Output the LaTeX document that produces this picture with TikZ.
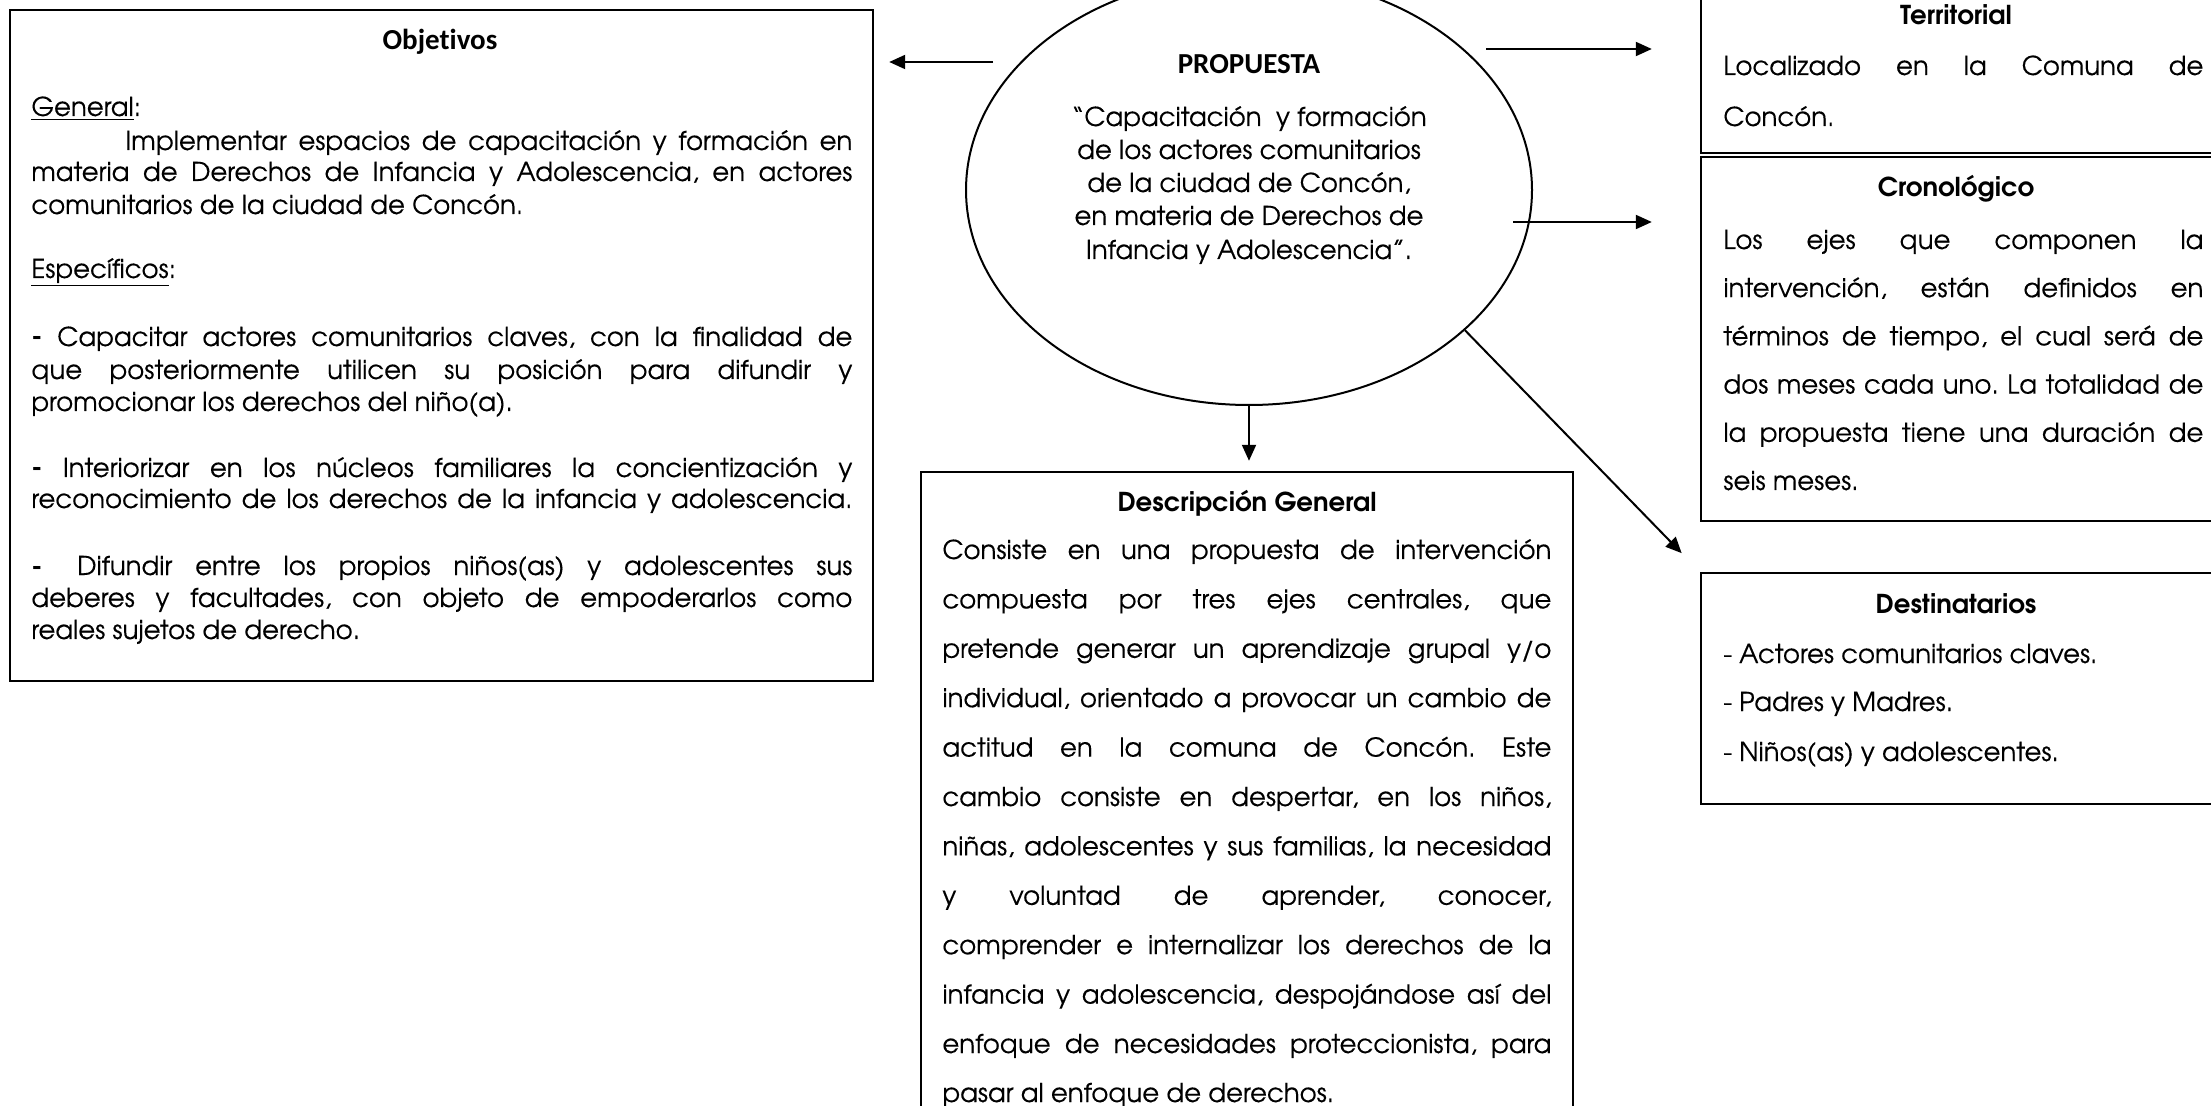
\documentclass[tikz,border=0pt]{standalone}
\usepackage{fontspec}
\setmainfont{texgyreadventor}[Extension=.otf, UprightFont=*-regular, BoldFont=*-bold, ItalicFont=*-italic, BoldItalicFont=*-bolditalic, UprightFeatures={FakeBold=0.25}]
\newfontfamily\carl{Carlito}[Ligatures=NoCommon]
\usetikzlibrary{arrows.meta,shapes.geometric}
\newcommand\J[2]{\makebox[#1][s]{#2}}
\frenchspacing
\begin{document}
\frenchspacing
\begin{tikzpicture}[x=0.5pt,y=-0.5pt,
  box/.style={draw, line width=1.2pt, rectangle, inner sep=0pt},
  arr/.style={-{Triangle[length=8pt,width=7pt]}, line width=1pt},
  txt/.style={anchor=base west, inner sep=0pt, font=\frenchspacing\fontsize{13}{15}\selectfont},
  ctxt/.style={anchor=base, inner sep=0pt, font=\frenchspacing\fontsize{13}{15}\selectfont},
  ttl/.style={anchor=base, inner sep=0pt, font=\bfseries\fontsize{13}{15}\selectfont},
  cttl/.style={anchor=base, inner sep=0pt, font=\carl\bfseries\fontsize{14.5}{16}\selectfont}]
\useasboundingbox (0,0) rectangle (2211,1106);
\clip (0,0) rectangle (2211,1106);
\fill[white] (0,0) rectangle (2211,1106);

% boxes
\node[box, minimum width=431.5pt, minimum height=335.5pt] (obj) at (441.5,345.5) {};
\node[box, minimum width=326pt, minimum height=324pt] (desc) at (1247,796) {};
\node[box, minimum width=262pt, minimum height=81.5pt] (terr) at (1963,71.5) {};
\node[box, minimum width=262pt, minimum height=182pt] (cron) at (1963,339) {};
\node[box, minimum width=262pt, minimum height=115.5pt] (dest) at (1963,688.5) {};
\node[draw, ellipse, line width=1pt, minimum width=283pt, minimum height=215pt, inner sep=0pt] (prop) at (1249,190) {};

% arrows
\coordinate (l1) at (993,62);
\coordinate (r1) at (1486,49);
\coordinate (r2) at (1513,222);
\draw[arr, shorten >=7.5pt] (l1) -- (obj.east |- l1);
\draw[arr, shorten >=24pt] (r1) -- (terr.west |- r1);
\draw[arr, shorten >=24pt] (r2) -- (cron.west |- r2);
\draw[arr, shorten >=5pt] (prop.south) -- (prop.south |- desc.north);
\draw[arr, shorten >=13pt] (prop.-33) -- (dest.north west);

% Objetivos
\node[cttl] (ot) at (440,50) {Objetivos};
\node[txt] (o0) at (31,116) {\underline{General}:};
\node[txt] (o1) at (125,150) {\J{363.5pt}{Implementar espacios de capacitación y formación en}};
\node[txt] (o2) at (31,181) {\J{410.5pt}{materia de Derechos de Infancia y Adolescencia, en actores}};
\node[txt] (o3) at (31,214) {comunitarios de la ciudad de Concón.};
\node[txt] (o4) at (31,278) {\underline{Específicos}:};
\node[txt] (o5) at (31,346) {\J{410.5pt}{\textbf{-} Capacitar actores comunitarios claves, con la finalidad de}};
\node[txt] (o6) at (31,379) {\J{410.5pt}{que posteriormente utilicen su posición para difundir y}};
\node[txt] (o7) at (31,411) {promocionar los derechos del niño(a).};
\node[txt] (o8) at (31,477) {\J{410.5pt}{\textbf{-} Interiorizar en los núcleos familiares la concientización y}};
\node[txt] (o9) at (31,508) {\J{410.5pt}{reconocimiento de los derechos de la infancia y adolescencia.}};
\node[txt] (o10) at (31,575) {\J{410.5pt}{\textbf{-}\hspace{6pt} Difundir entre los propios niños(as) y adolescentes sus}};
\node[txt] (o11) at (31,607) {\J{410.5pt}{deberes y facultades, con objeto de empoderarlos como}};
\node[txt] (o12) at (31,639) {reales sujetos de derecho.};

% Propuesta
\node[cttl] (pt) at (1249,74) {PROPUESTA};
\node[ctxt] (p1) at (1249,126) {“Capacitación\ \ y formación};
\node[ctxt] (p2) at (1249,159) {de los actores comunitarios};
\node[ctxt] (p3) at (1249,192) {de la ciudad de Concón,};
\node[ctxt] (p4) at (1249,225) {en materia de Derechos de};
\node[ctxt] (p5) at (1249,259) {Infancia y Adolescencia”.};

% Territorial
\node[ttl] (tt) at (1956,25) {Territorial};
\node[txt] (t1) at (1723,75) {\J{240pt}{Localizado en la Comuna de}};
\node[txt] (t2) at (1723,126) {Concón.};

% Cronologico
\node[ttl] (ct) at (1956,197) {Cronológico};
\foreach \mytext [count=\i] in {{Los ejes que componen la},{intervención, están definidos en},{términos de tiempo, el cual será de},{dos meses cada uno. La totalidad de},{la propuesta tiene una duración de}}
  \node[txt] (c\i) at (1723,{249+(\i-1)*48.2}) {\J{240pt}{\mytext}};
\node[txt] (c6) at (1723,490) {seis meses.};

% Destinatarios
\node[ttl] (dt) at (1956,613) {Destinatarios};
\node[txt] (de1) at (1723,663) {- Actores comunitarios claves.};
\node[txt] (de2) at (1723,711) {- Padres y Madres.};
\node[txt] (de3) at (1723,761) {- Niños(as) y adolescentes.};

% Descripcion
\node[ttl] (gt) at (1247,512) {Descripción General};
\foreach \mytext [count=\i] in {{Consiste en una propuesta de intervención},{compuesta por tres ejes centrales, que},{pretende generar un aprendizaje grupal y/o},{individual, orientado a provocar un cambio de},{actitud en la comuna de Concón. Este},{cambio consiste en despertar, en los niños,},{niñas, adolescentes y sus familias, la necesidad},{y voluntad de aprender, conocer,},{comprender e internalizar los derechos de la},{infancia y adolescencia, despojándose así del},{enfoque de necesidades proteccionista, para}}
  \node[txt] (d\i) at (942,{559+(\i-1)*49.4}) {\J{304.5pt}{\mytext}};
\node[txt] (d12) at (942,1102) {pasar al enfoque de derechos.};
\end{tikzpicture}
\end{document}
